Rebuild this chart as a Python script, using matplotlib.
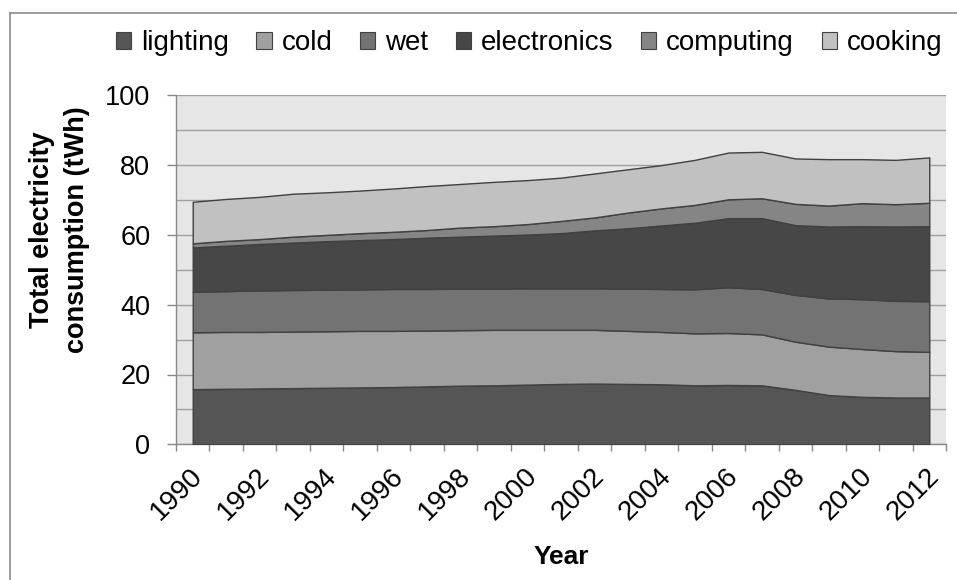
import matplotlib
matplotlib.use("Agg")
import matplotlib.pyplot as plt
import matplotlib.transforms as mtransforms
from matplotlib.patches import Patch
from matplotlib.lines import Line2D
import numpy as np

plt.rcParams['font.family'] = ['Liberation Sans', 'DejaVu Sans']

years = list(range(1990, 2013))
series_names = ["lighting", "cold", "wet", "electronics", "computing", "cooking"]

lighting = [15.8, 15.9, 16.0, 16.1, 16.2, 16.3, 16.4, 16.6, 16.8, 16.9, 17.1, 17.3,
            17.4, 17.3, 17.2, 16.9, 17.0, 16.9, 15.6, 14.1, 13.6, 13.4, 13.4]
cold = [16.3, 16.3, 16.2, 16.2, 16.2, 16.2, 16.1, 16.0, 15.9, 15.9, 15.7, 15.5,
        15.4, 15.2, 15.0, 14.9, 14.9, 14.6, 13.8, 13.9, 13.7, 13.3, 13.1]
wet = [11.6, 11.7, 11.9, 11.9, 11.9, 11.9, 12.0, 11.9, 11.9, 11.8, 11.9, 11.9,
       11.9, 12.1, 12.3, 12.6, 13.1, 13.0, 13.4, 13.8, 14.3, 14.4, 14.5]
electronics = [12.7, 13.0, 13.3, 13.6, 13.9, 14.1, 14.3, 14.7, 14.9, 15.2, 15.4, 15.8,
               16.6, 17.3, 18.2, 19.1, 19.8, 20.3, 20.0, 20.6, 20.9, 21.3, 21.5]
computing = [1.2, 1.4, 1.4, 1.7, 1.8, 2.0, 2.1, 2.2, 2.6, 2.7, 3.0, 3.5,
             3.7, 4.5, 4.9, 5.1, 5.4, 5.7, 6.1, 6.0, 6.6, 6.4, 6.7]
cooking = [11.9, 12.0, 12.1, 12.3, 12.2, 12.2, 12.4, 12.6, 12.5, 12.7, 12.6, 12.4,
           12.6, 12.4, 12.4, 12.9, 13.4, 13.3, 13.0, 13.3, 12.6, 12.7, 13.0]

colors = ["#555555", "#a0a0a0", "#737373", "#474747", "#858585", "#c1c1c1"]

fig = plt.figure(figsize=(9.57, 5.8), dpi=100)
ax = fig.add_axes([176/957, 1-444.3/580, (946-176)/957, (444.3-95.3)/580])
ax.set_facecolor("#e6e6e6")

x = np.arange(len(years))
ax.stackplot(x, lighting, cold, wet, electronics, computing, cooking,
             colors=colors, edgecolor="#404040", linewidth=1.0, zorder=3)

ax.set_xlim(-0.5, len(years) - 0.5)
ax.set_ylim(0, 100)

# y axis
ax.set_yticks(np.arange(0, 101, 20))
ax.set_yticks(np.arange(0, 101, 10), minor=True)
ax.grid(True, axis='y', which='both', color="#a0a0a0", linewidth=1.0, zorder=1)
ax.tick_params(axis='y', which='major', length=6.5, width=1.0, color="#888888",
               labelsize=19.5, pad=12)
ax.tick_params(axis='y', which='minor', length=0)

# x axis: boundary ticks + labels at category centres
ax.set_xticks(np.arange(-0.5, len(years), 1.0))
ax.set_xticklabels([])
ax.set_xticks(x[::2], minor=True)
ax.set_xticklabels([str(y) for y in years[::2]], minor=True, rotation=45,
                   ha='right', va='center', rotation_mode='anchor')
ax.tick_params(axis='x', which='major', length=5, width=1.0, color="#888888")
ax.tick_params(axis='x', which='minor', length=0, labelsize=20, pad=20)
offset = mtransforms.ScaledTranslation(6/100, 0, fig.dpi_scale_trans)
for lab in ax.get_xticklabels(minor=True):
    lab.set_transform(lab.get_transform() + offset)

for s in ['top', 'right']:
    ax.spines[s].set_visible(False)
for s in ['left', 'bottom']:
    ax.spines[s].set_color("#888888")
    ax.spines[s].set_linewidth(1.0)

ax.set_axisbelow(True)

ax.set_xlabel("Year", fontsize=19, fontweight='bold', labelpad=14)
fig.text(60/957, 1-230/580, "Total electricity\nconsumption (tWh)", rotation=90,
         ha='center', va='center', fontsize=19.5, fontweight='bold',
         multialignment='center', linespacing=1.45)

handles = [Patch(facecolor=c, edgecolor="#404040", linewidth=0.8) for c in colors]
leg = fig.legend(handles, series_names, loc='center', bbox_to_anchor=(529/957, 1-43/580),
                 ncol=6, frameon=False, fontsize=20, handlelength=0.55, handleheight=0.55,
                 handletextpad=0.35, columnspacing=1.0, borderpad=0)

# outer chart frame (top and left edges visible)
fig.add_artist(Line2D([10/957, 1.0], [1-13/580, 1-13/580], color="#8c8c8c", linewidth=1.2,
                      transform=fig.transFigure))
fig.add_artist(Line2D([10/957, 10/957], [1-13/580, 0.0], color="#8c8c8c", linewidth=1.2,
                      transform=fig.transFigure))

fig.savefig("out.png", dpi=100)
